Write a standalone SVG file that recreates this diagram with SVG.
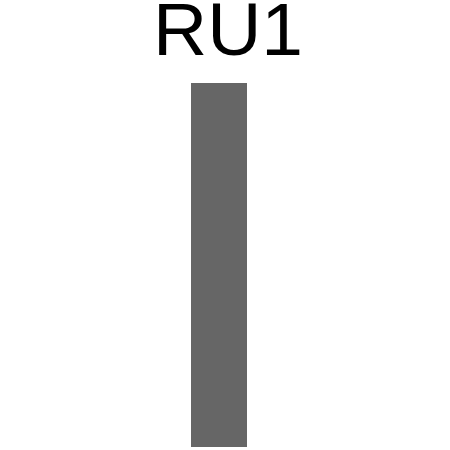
<svg xmlns="http://www.w3.org/2000/svg" width="450" height="450" viewBox="0 0 450 450">
<style>
.lbl{font-family:"Liberation Sans",Arial,sans-serif;font-size:75px;fill:#000}
.bar{fill:#666666}
</style>
<rect width="450" height="450" fill="#ffffff"/>
<g id="RU1">
<text class="lbl" x="228" y="55" text-anchor="middle">RU1</text>
<rect class="bar" x="191" y="83" width="56" height="364"/>
</g>
</svg>
